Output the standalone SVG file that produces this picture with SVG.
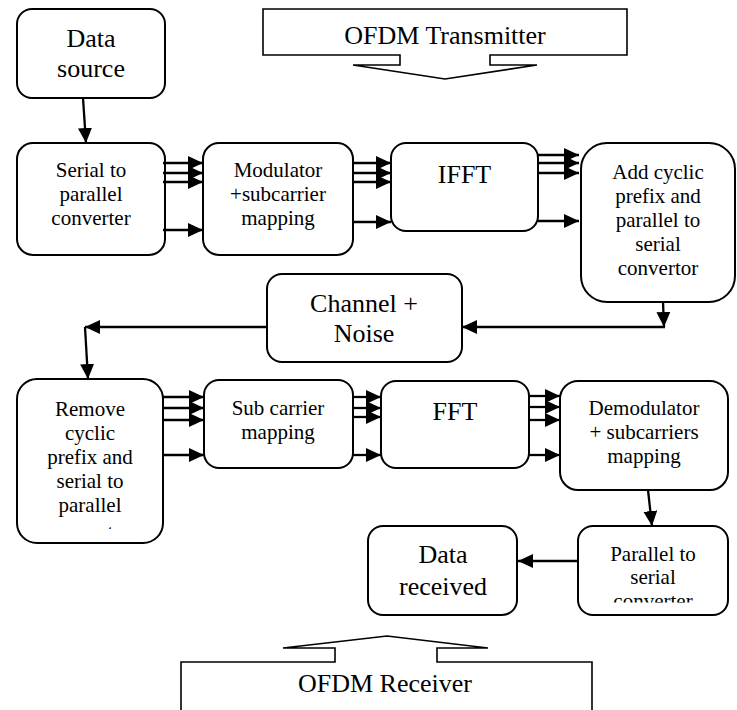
<svg xmlns="http://www.w3.org/2000/svg" width="737" height="710" viewBox="0 0 737 710">
<style>
.box{fill:#fff;stroke:#000;stroke-width:2}
.call{fill:#fff;stroke:#000;stroke-width:1.6;stroke-linejoin:miter}
.t{font-family:"Liberation Serif","Times New Roman",serif;fill:#000;text-anchor:middle}
.s{font-size:21px}
.l{font-size:26px}
.c{fill:none;stroke:#000;stroke-width:2.3;marker-end:url(#ah)}
</style>
<defs>
<marker id="ah" markerUnits="userSpaceOnUse" markerWidth="17" markerHeight="16" refX="15" refY="7" orient="auto">
<path d="M0,0 L15,7 L0,14 Z" fill="#000"/>
</marker>
<clipPath id="clipPS"><rect x="578" y="526" width="150" height="76.5"/></clipPath>
<clipPath id="clipRM"><rect x="17" y="379" width="146" height="150"/></clipPath>
</defs>

<g id="tx-label">
<path class="call" d="M263,9 H627 V55 H490 V65 H537 L445,79 L353,65 H400 V55 H263 Z"/>
<text class="t l" x="445" y="44">OFDM Transmitter</text>
</g>

<g id="data-source">
<rect class="box" x="17" y="9" width="148" height="89" rx="15"/>
<text class="t l" x="91" y="47">Data</text>
<text class="t l" x="91" y="77">source</text>
</g>

<g id="serial-parallel">
<rect class="box" x="17" y="143" width="148" height="112" rx="16"/>
<text class="t s" x="91" y="177">Serial to</text>
<text class="t s" x="91" y="201">parallel</text>
<text class="t s" x="91" y="225">converter</text>
</g>

<g id="modulator">
<rect class="box" x="203" y="143" width="150" height="112" rx="16"/>
<text class="t s" x="278" y="177">Modulator</text>
<text class="t s" x="278" y="201">+subcarrier</text>
<text class="t s" x="278" y="225">mapping</text>
</g>

<g id="ifft">
<rect class="box" x="391" y="143" width="147" height="88" rx="15"/>
<text class="t l" x="464.5" y="183">IFFT</text>
</g>

<g id="add-cp">
<rect class="box" x="581" y="143" width="154" height="159" rx="26"/>
<text class="t s" x="658" y="179">Add cyclic</text>
<text class="t s" x="658" y="203">prefix and</text>
<text class="t s" x="658" y="227">parallel to</text>
<text class="t s" x="658" y="251">serial</text>
<text class="t s" x="658" y="275">convertor</text>
</g>

<g id="channel">
<rect class="box" x="267" y="274" width="195" height="88" rx="15"/>
<text class="t l" x="364" y="312">Channel +</text>
<text class="t l" x="364" y="342">Noise</text>
</g>

<g id="remove-cp">
<rect class="box" x="17" y="379" width="146" height="164" rx="20"/>
<text class="t s" x="90" y="416">Remove</text>
<text class="t s" x="90" y="440">cyclic</text>
<text class="t s" x="90" y="464">prefix and</text>
<text class="t s" x="90" y="488">serial to</text>
<text class="t s" x="90" y="512">parallel</text>
<text class="t s" x="90" y="539" clip-path="url(#clipRM)">converter</text>
</g>

<g id="subcarrier">
<rect class="box" x="204" y="380" width="149" height="88" rx="15"/>
<text class="t s" x="278" y="415">Sub carrier</text>
<text class="t s" x="278" y="439">mapping</text>
</g>

<g id="fft">
<rect class="box" x="381" y="381" width="148" height="87" rx="15"/>
<text class="t l" x="455" y="420">FFT</text>
</g>

<g id="demodulator">
<rect class="box" x="560" y="381" width="168" height="109" rx="18"/>
<text class="t s" x="644" y="415">Demodulator</text>
<text class="t s" x="644" y="439">+ subcarriers</text>
<text class="t s" x="644" y="463">mapping</text>
</g>

<g id="parallel-serial">
<rect class="box" x="578" y="526" width="150" height="89" rx="15"/>
<text class="t s" x="653" y="561">Parallel to</text>
<text class="t s" x="653" y="584">serial</text>
<text class="t s" x="653" y="608" clip-path="url(#clipPS)">converter</text>
</g>

<g id="data-received">
<rect class="box" x="368" y="526" width="149" height="89" rx="15"/>
<text class="t l" x="443" y="563">Data</text>
<text class="t l" x="443" y="595">received</text>
</g>

<g id="rx-label">
<path class="call" d="M181,714 V662 H335 V648 H283 L387,636 L488,648 H437 V662 H592 V714"/>
<text class="t l" x="385" y="692">OFDM Receiver</text>
</g>

<g id="connectors">
<path class="c" d="M83,98 L86,143"/>
<path class="c" d="M163,163 H203"/>
<path class="c" d="M163,173 H203"/>
<path class="c" d="M163,182 H203"/>
<path class="c" d="M163,230 H203"/>
<path class="c" d="M353,163 H391"/>
<path class="c" d="M353,173 H391"/>
<path class="c" d="M353,182 H391"/>
<path class="c" d="M353,222 H391"/>
<path class="c" d="M538,155 H579"/>
<path class="c" d="M538,163 H579"/>
<path class="c" d="M538,173 H579"/>
<path class="c" d="M538,221 H579"/>
<path class="c" d="M663,302 L664,327"/>
<path class="c" d="M665,327 H462"/>
<path class="c" d="M267,327 H85"/>
<path class="c" d="M85,327 L88,379"/>
<path class="c" d="M163,397 H204"/>
<path class="c" d="M163,408 H204"/>
<path class="c" d="M163,420 H204"/>
<path class="c" d="M163,455 H204"/>
<path class="c" d="M353,397 H381"/>
<path class="c" d="M353,408 H381"/>
<path class="c" d="M353,417 H381"/>
<path class="c" d="M353,455 H381"/>
<path class="c" d="M529,396 H560"/>
<path class="c" d="M529,407 H560"/>
<path class="c" d="M529,420 H560"/>
<path class="c" d="M529,455 H560"/>
<path class="c" d="M648,490 L652,526"/>
<path class="c" d="M578,561 H518"/>
</g>
</svg>
